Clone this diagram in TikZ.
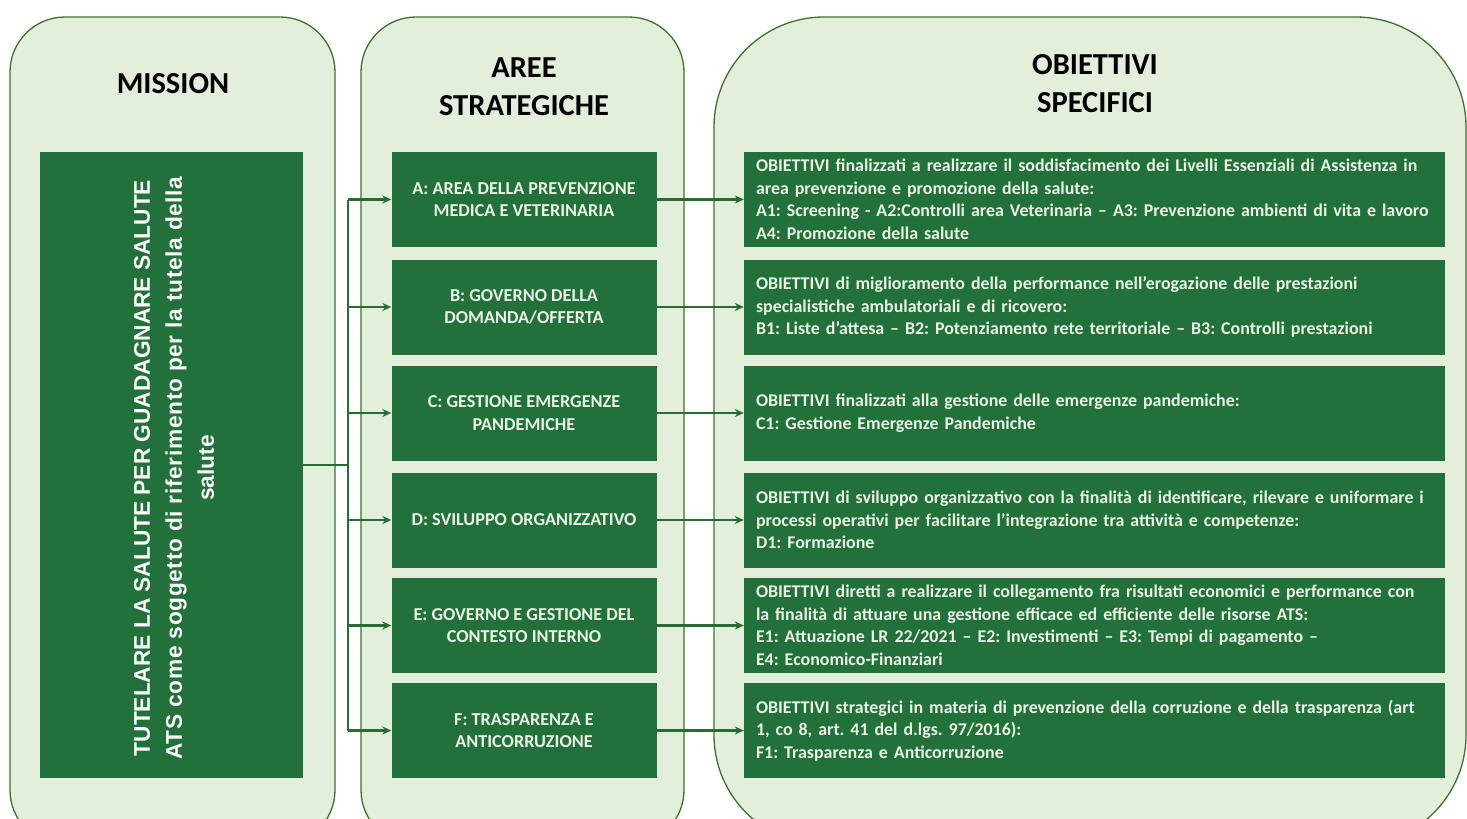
\documentclass[tikz,border=0pt]{standalone}
\usepackage{fontspec}
\setmainfont{Carlito}
\newfontfamily\arl{Liberation Sans}
\newfontfamily\arlwide[LetterSpace=2.9]{Liberation Sans}
\usetikzlibrary{arrows.meta}
\frenchspacing
\definecolor{panelfill}{HTML}{E2EFDA}
\definecolor{panelline}{HTML}{41702E}
\definecolor{darkbox}{HTML}{22703A}
\definecolor{boxtext}{HTML}{EAF3E4}
\definecolor{conn}{HTML}{2B6A32}
\tikzset{
  panel/.style={draw=panelline, line width=1.3pt, fill=panelfill},
  hdr/.style={font=\fontsize{30.5}{38}\selectfont\bfseries, align=center, text=black},
  areabox/.style={fill=darkbox, minimum width=265pt, minimum height=95pt, inner sep=0pt,
    text=boxtext, font=\fontsize{18.2}{22.5}\selectfont\bfseries, align=center},
  objbox/.style={fill=darkbox, minimum width=701pt, minimum height=95pt, inner sep=0pt,
    text=boxtext, font=\fontsize{17.9}{22.5}\selectfont\bfseries, align=left, text width=677pt},
  conline/.style={draw=conn, line width=2.2pt},
  arr/.style={conline, -{Stealth[length=9pt,width=8pt]}}
}
\begin{document}
\begin{tikzpicture}[x=1pt,y=-1pt]
\useasboundingbox (0,0) rectangle (1467,819);
\fill[white] (0,0) rectangle (1467,819);
\begin{scope}
\clip (0,0) rectangle (1467,819);
\draw[panel, rounded corners=55pt] (10,17) rectangle (335,845);
\draw[panel, rounded corners=55pt] (361,17) rectangle (684,845);
\draw[panel, rounded corners=110pt] (714,17) rectangle (1466,845);
\end{scope}
% headers
\node[hdr] (h1) at (173,84) {MISSION};
\node[hdr] (h2) at (524,87) {AREE\\STRATEGICHE};
\node[hdr] (h3) at (1095,84) {OBIETTIVI\\SPECIFICI};
% mission box
\node[fill=darkbox, minimum width=263pt, minimum height=626pt, inner sep=0pt] (mis) at (171.5,465) {};
\node[rotate=90, text=white, font=\arl\fontsize{22.7}{32}\selectfont\bfseries, align=center] (mtxt) at (174,468)
  {TUTELARE LA SALUTE PER GUADAGNARE SALUTE\\{\arlwide\bfseries ATS come soggetto di riferimento per la tutela della}\\salute};
% area boxes
\node[areabox] (A) at (524,199.5) {A: AREA DELLA PREVENZIONE\\MEDICA E VETERINARIA};
\node[areabox] (B) at (524,307) {B: GOVERNO DELLA\\DOMANDA/OFFERTA};
\node[areabox] (C) at (524,413) {C: GESTIONE EMERGENZE\\PANDEMICHE};
\node[areabox] (D) at (524,520) {D: SVILUPPO ORGANIZZATIVO};
\node[areabox] (E) at (524,625.5) {E: GOVERNO E GESTIONE DEL\\CONTESTO INTERNO};
\node[areabox] (F) at (524,730.5) {F: TRASPARENZA E\\ANTICORRUZIONE};
% objective boxes
\node[objbox] (OA) at (1094.5,199.5) {OBIETTIVI finalizzati a realizzare il soddisfacimento dei Livelli Essenziali di Assistenza in\\area prevenzione e promozione della salute:\\A1: Screening - A2:Controlli area Veterinaria -- A3: Prevenzione ambienti di vita e lavoro\\A4: Promozione della salute};
\node[objbox] (OB) at (1094.5,307) {OBIETTIVI di miglioramento della performance nell’erogazione delle prestazioni\\specialistiche ambulatoriali e di ricovero:\\B1: Liste d’attesa -- B2: Potenziamento rete territoriale -- B3: Controlli prestazioni};
\node[objbox] (OC) at (1094.5,413) {OBIETTIVI finalizzati alla gestione delle emergenze pandemiche:\\C1: Gestione Emergenze Pandemiche};
\node[objbox] (OD) at (1094.5,520) {OBIETTIVI di sviluppo organizzativo con la finalità di identificare, rilevare e uniformare i\\processi operativi per facilitare l'integrazione tra attività e competenze:\\D1: Formazione};
\node[objbox] (OE) at (1094.5,625.5) {OBIETTIVI diretti a realizzare il collegamento fra risultati economici e performance con\\la finalità di attuare una gestione efficace ed efficiente delle risorse ATS:\\E1: Attuazione LR 22/2021 -- E2: Investimenti -- E3: Tempi di pagamento --\\E4: Economico-Finanziari};
\node[objbox] (OF) at (1094.5,730.5) {OBIETTIVI strategici in materia di prevenzione della corruzione e della trasparenza (art\\1, co 8, art. 41 del d.lgs. 97/2016):\\F1: Trasparenza e Anticorruzione};
% connectors
\coordinate (j) at (348,465);
\draw[conline] (mis.east) -- (j);
\draw[conline] (j |- A.west) -- (j |- F.west);
\foreach \n in {A,B,C,D,E,F}{
  \draw[arr] (j |- \n.west) -- (\n.west);
  \draw[arr] (\n.east) -- (O\n.west);
}
\end{tikzpicture}
\end{document}
